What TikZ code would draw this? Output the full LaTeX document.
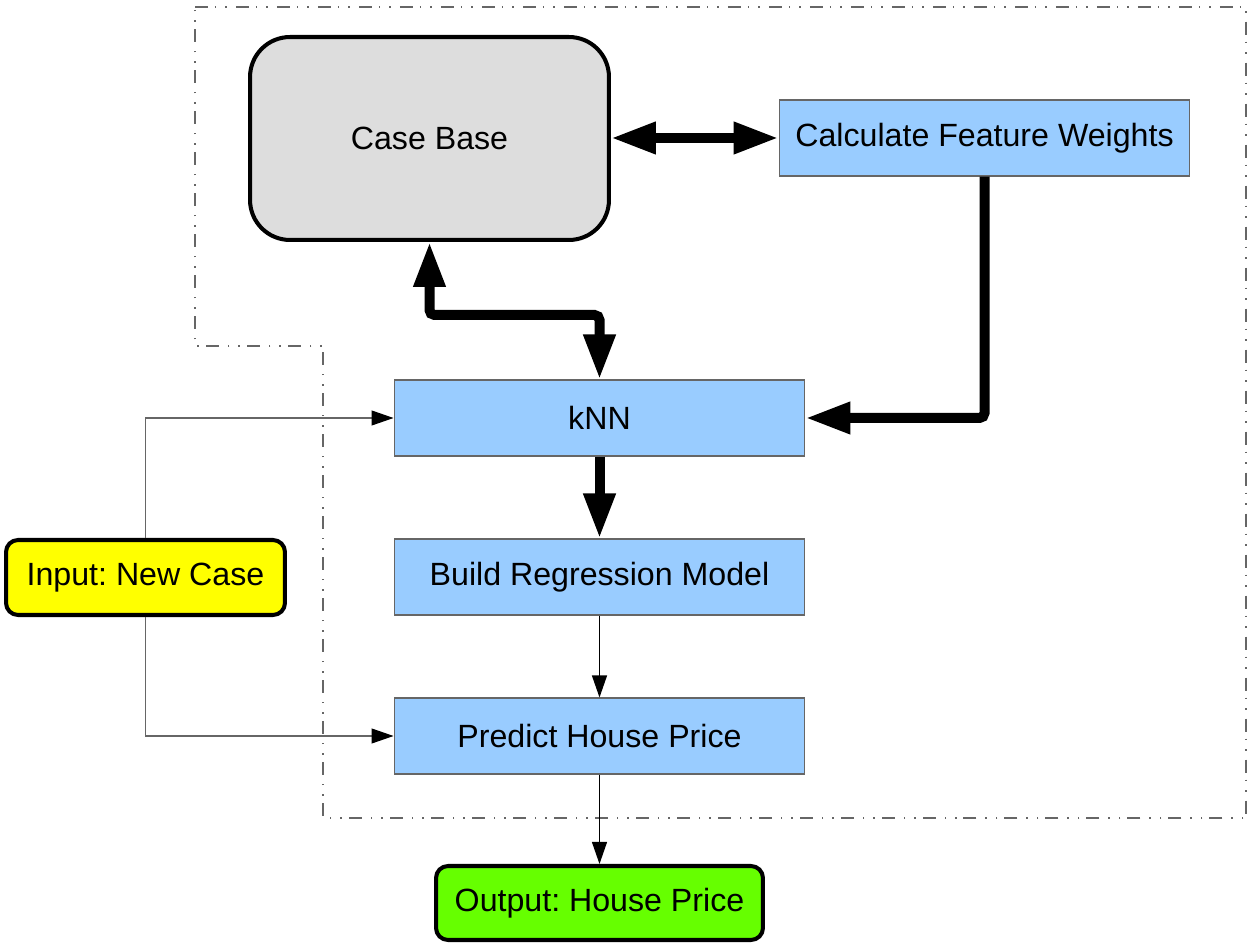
\documentclass[tikz,border=0pt]{standalone}
\usepackage{fontspec}
\setmainfont{Liberation Sans}
\usepackage{xcolor}
\definecolor{cbgray}{RGB}{221,221,221}
\definecolor{stepblue}{RGB}{153,204,255}
\definecolor{inyellow}{RGB}{255,255,0}
\definecolor{outgreen}{RGB}{102,255,0}
\definecolor{edgegray}{RGB}{102,102,102}
\usetikzlibrary{arrows.meta, positioning}
\frenchspacing

\begin{document}
\begin{tikzpicture}[x=0.02cm, y=-0.02cm,
    every node/.style={font=\fontsize{18.3}{22}\selectfont, inner sep=0pt},
    stepbox/.style={draw=edgegray, line width=0.6pt, fill=stepblue,
                    minimum width=8.22cm, minimum height=1.52cm},
    endbox/.style={draw=black, line width=2.3pt, rounded corners=0.24cm},
    bigarrow/.style={line width=0.2cm, {Triangle[length=9mm, width=6mm]}-{Triangle[length=9mm, width=6mm]}},
    bigto/.style={line width=0.2cm, -{Triangle[length=9mm, width=6mm]}},
    smallto/.style={line width=0.6pt, -{Triangle[length=4.4mm, width=3mm, color=black]}}]

\useasboundingbox (0,0) rectangle (1259,952);

% --- system boundary ---
\draw[edgegray, line width=0.8pt,
      dash pattern=on 0.26cm off 0.14cm on 0.03cm off 0.18cm on 0.03cm off 0.18cm]
  (195,7) -- (1246,7) -- (1246,818) -- (323,818) -- (323,346) -- (195,346) -- cycle;

% --- nodes ---
\node[draw=black, line width=2.3pt, fill=cbgray, rounded corners=0.8cm,
      minimum width=7.18cm, minimum height=4.06cm] (casebase) at (429.5,138.5) {Case Base};
\node[stepbox] (weights) at (984.5,138) {Calculate Feature Weights};
\node[stepbox] (knn) at (599.5,418) {kNN};
\node[stepbox] (regress) at (599.5,577) {Build Regression Model};
\node[stepbox] (predict) at (599.5,736) {Predict House Price};
\node[endbox, fill=inyellow, minimum width=5.58cm, minimum height=1.5cm] (input) at (145.5,577.5) {Input: New Case};
\node[endbox, fill=outgreen, minimum width=6.54cm, minimum height=1.48cm] (output) at (599.5,903) {Output: House Price};

% --- thick connectors ---
\draw[bigarrow] (casebase.east |- weights.west) -- (weights.west);
\draw[bigarrow, rounded corners=0.1cm] (casebase.south) -- ++(0,73) -| (knn.north);
\draw[bigto, rounded corners=0.1cm] (weights.south) |- (knn.east);
\draw[bigto] (knn.south) -- (regress.north);

% --- thin connectors ---
\draw[smallto] (regress.south) -- (predict.north);
\draw[smallto] (predict.south) -- (output.north);
\draw[smallto, edgegray] (input.north) |- (knn.west);
\draw[smallto, edgegray] (input.south) |- (predict.west);

\end{tikzpicture}
\end{document}
